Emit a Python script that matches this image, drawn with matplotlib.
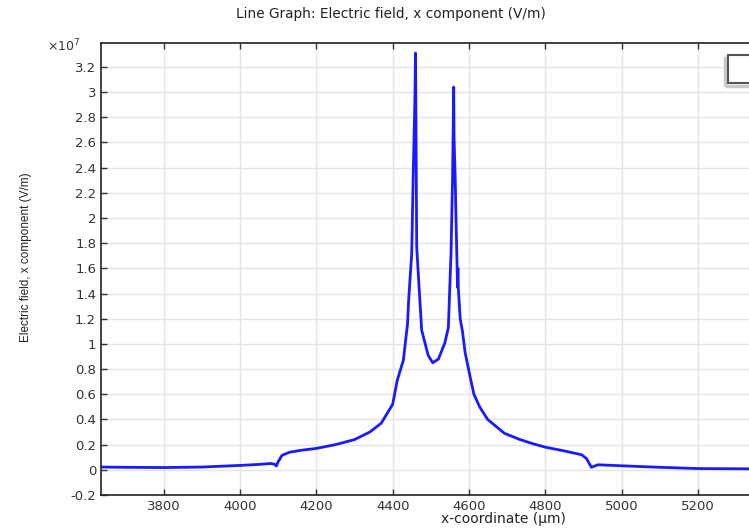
import numpy as np
import matplotlib
matplotlib.use("Agg")
import matplotlib.pyplot as plt
from matplotlib.ticker import FuncFormatter, MultipleLocator
from matplotlib.patches import Rectangle

# x-coordinate (um) and Ex (in units of 1e7 V/m)
x_um = [3636, 3700, 3800, 3900, 4000, 4050, 4080, 4090, 4095, 4100, 4110,
        4130, 4160, 4200, 4250, 4300, 4340, 4370, 4400, 4412, 4428, 4439,
        4442, 4450, 4454, 4458, 4460, 4462, 4463, 4476, 4493, 4505, 4520,
        4537, 4546, 4553, 4557, 4560, 4561, 4564, 4566, 4569, 4570, 4571,
        4572, 4577, 4583, 4590, 4605, 4613, 4628, 4649, 4693, 4734, 4770,
        4800, 4850, 4895, 4908, 4921, 4938, 5000, 5100, 5200, 5334]
ex_1e7 = [0.022, 0.02, 0.018, 0.022, 0.035, 0.043, 0.05, 0.045, 0.03, 0.065,
          0.115, 0.14, 0.155, 0.17, 0.2, 0.24, 0.3, 0.37, 0.52, 0.71, 0.87,
          1.16, 1.35, 1.72, 2.36, 2.9, 3.31, 2.3, 1.77, 1.11, 0.91, 0.85,
          0.88, 1.01, 1.13, 1.72, 2.31, 3.04, 2.63, 2.31, 2.0, 1.6, 1.45,
          1.6, 1.45, 1.2, 1.1, 0.93, 0.71, 0.6, 0.5, 0.4, 0.29, 0.24, 0.205,
          0.18, 0.15, 0.12, 0.09, 0.02, 0.04, 0.032, 0.02, 0.01, 0.008]

W, H = 749, 528
fig = plt.figure(figsize=(W / 100, H / 100), dpi=100)
ax = fig.add_axes([101 / W, 33 / H, (770 - 101) / W, 452 / H])

ax.plot(x_um, ex_1e7, color='#1a1aff', lw=2.0, solid_joinstyle='round')

x0 = 3635.5
ax.set_xlim(x0, x0 + (770 - 101) * 200 / 76.3)
ax.set_ylim(-0.2, 3.39)
ax.xaxis.set_major_locator(MultipleLocator(200))
ax.yaxis.set_major_locator(MultipleLocator(0.2))
ax.yaxis.set_major_formatter(FuncFormatter(lambda v, p: '%g' % round(v, 1)))
ax.grid(True, color='#e4e4e4', lw=1.0)
ax.set_axisbelow(True)
ax.tick_params(direction='in', length=4, width=1, colors='#333333',
               labelsize=9.5, top=True, right=True, labelcolor='#333333')
for s in ax.spines.values():
    s.set_color('#222222')
    s.set_linewidth(1.2)

fig.text(64 / W, 1 - 46 / H, r'$\times10^{7}$', fontsize=9, color='#333333',
         ha='center', va='center')
fig.text(391 / W, 1 - 14 / H, 'Line Graph: Electric field, x component (V/m)',
         fontsize=9.8, color='#222222', ha='center', va='center')
fig.text(503 / W, 1 - 519 / H, 'x-coordinate (\u03bcm)', fontsize=10,
         color='#222222', ha='center', va='center')
fig.text(26 / W, 1 - 257 / H, 'Electric field, x component (V/m)',
         family=['Liberation Sans', 'DejaVu Sans'], fontsize=8.5,
         color='#222222', rotation=90, ha='center', va='center')

# clipped legend box at the right edge
fig.patches.append(Rectangle((725 / W, 1 - 86 / H), 40 / W, 28 / H,
                             transform=fig.transFigure, facecolor='none',
                             edgecolor='#c8c8c8', lw=2.5))
fig.patches.append(Rectangle((728 / W, 1 - 83 / H), 40 / W, 28 / H,
                             transform=fig.transFigure, facecolor='white',
                             edgecolor='#555555', lw=1.5))

fig.savefig('out.png', dpi=100)
